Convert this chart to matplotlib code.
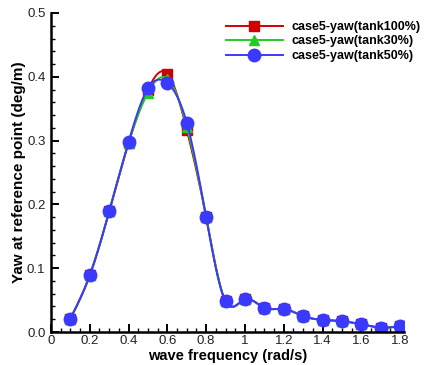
import numpy as np
import matplotlib
matplotlib.use("Agg")
import matplotlib.pyplot as plt
from matplotlib.ticker import MultipleLocator, FuncFormatter

freq = [0.1, 0.2, 0.3, 0.4, 0.5, 0.6, 0.7, 0.8, 0.9, 1.0, 1.1, 1.2, 1.3, 1.4, 1.5, 1.6, 1.7, 1.8]
yaw_tank100 = [0.021, 0.089, 0.189, 0.296, 0.380, 0.405, 0.317, 0.180, 0.048, 0.051, 0.038, 0.036, 0.025, 0.019, 0.017, 0.012, 0.007, 0.009]
yaw_tank30 = [0.021, 0.089, 0.189, 0.297, 0.375, 0.397, 0.322, 0.180, 0.048, 0.051, 0.038, 0.036, 0.025, 0.019, 0.017, 0.012, 0.007, 0.009]
yaw_tank50 = [0.021, 0.089, 0.189, 0.298, 0.382, 0.390, 0.328, 0.180, 0.048, 0.051, 0.038, 0.036, 0.025, 0.019, 0.017, 0.012, 0.007, 0.009]
labels = ["case5-yaw(tank100%)", "case5-yaw(tank30%)", "case5-yaw(tank50%)"]


def natural_spline(x, y, n=400):
    x = np.asarray(x, float)
    y = np.asarray(y, float)
    m = len(x)
    h = np.diff(x)
    A = np.zeros((m, m))
    b = np.zeros(m)
    A[0, 0] = A[-1, -1] = 1.0
    for i in range(1, m - 1):
        A[i, i - 1] = h[i - 1]
        A[i, i] = 2 * (h[i - 1] + h[i])
        A[i, i + 1] = h[i]
        b[i] = 6 * ((y[i + 1] - y[i]) / h[i] - (y[i] - y[i - 1]) / h[i - 1])
    M = np.linalg.solve(A, b)
    xs = np.linspace(x[0], x[-1], n)
    idx = np.clip(np.searchsorted(x, xs) - 1, 0, m - 2)
    x0, x1 = x[idx], x[idx + 1]
    hh = x1 - x0
    t0, t1 = x1 - xs, xs - x0
    ys = (M[idx] * t0 ** 3 + M[idx + 1] * t1 ** 3) / (6 * hh) \
        + (y[idx] / hh - M[idx] * hh / 6) * t0 + (y[idx + 1] / hh - M[idx + 1] * hh / 6) * t1
    return xs, ys


plt.rcParams["font.family"] = ["Liberation Sans", "DejaVu Sans"]

fig = plt.figure(figsize=(4.24, 3.65), dpi=100)
ax = fig.add_axes([0.1203, 0.0904, 0.8325, 0.874])

series = [
    (yaw_tank100, "#d00000", "s", 6.5),
    (yaw_tank30, "#22cc22", "^", 6.5),
    (yaw_tank50, "#3a3aff", "o", 9),
]
handles = []
for (vals, col, mk, ms), lab in zip(series, labels):
    xs, ys = natural_spline(freq, vals)
    ax.plot(xs, ys, color=col, lw=1.4)
    ax.plot(freq, vals, ls="none", marker=mk, ms=ms, color=col, mec=col)
    h, = ax.plot([], [], color=col, lw=1.4, marker=mk, ms=ms, mec=col, label=lab)
    handles.append(h)

ax.set_xlim(0, 1.82)
ax.set_ylim(0, 0.5)
ax.xaxis.set_major_locator(MultipleLocator(0.2))
ax.xaxis.set_minor_locator(MultipleLocator(0.05))
ax.yaxis.set_major_locator(MultipleLocator(0.1))
ax.yaxis.set_minor_locator(MultipleLocator(0.02))
ax.xaxis.set_major_formatter(FuncFormatter(lambda v, p: "%g" % round(v, 2)))
ax.yaxis.set_major_formatter(FuncFormatter(lambda v, p: "%.1f" % v))

for s in ("top", "right"):
    ax.spines[s].set_visible(False)
for s in ("left", "bottom"):
    ax.spines[s].set_linewidth(1.8)

ax.tick_params(which="major", direction="in", length=6, width=1.4,
               labelsize=9.5, labelcolor="#222222")
ax.tick_params(axis="x", which="major", pad=2.5)
ax.tick_params(axis="y", which="major", pad=4)
ax.tick_params(which="minor", direction="in", length=3, width=1.0)

ax.set_xlabel("wave frequency (rad/s)", fontsize=10.5, fontweight="bold", labelpad=1)
ax.set_ylabel("Yaw at reference point (deg/m)", fontsize=11, fontweight="bold", labelpad=1)

leg = ax.legend(handles=handles, loc="upper right", bbox_to_anchor=(1.048, 0.975),
                frameon=False, handlelength=4.6, handletextpad=0.7,
                labelspacing=0.2, borderaxespad=0, borderpad=0,
                prop={"weight": "bold", "size": 9})

fig.savefig("out.png", dpi=100)
